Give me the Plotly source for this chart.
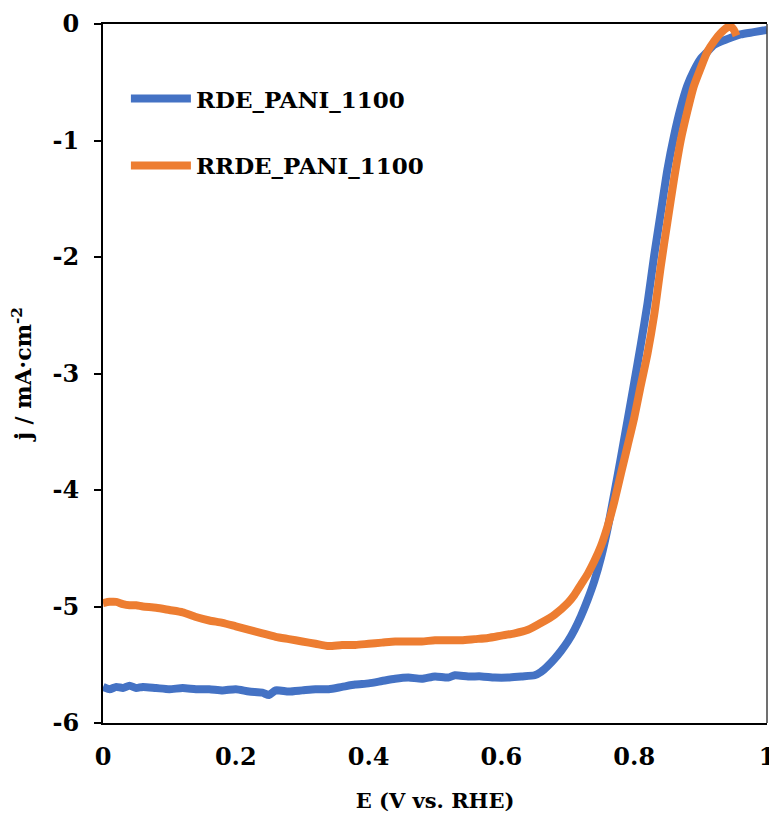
import plotly.graph_objects as go

# ---- data ----
rde_E = [0.00, 0.01, 0.02, 0.03, 0.04, 0.05, 0.06, 0.08, 0.10, 0.12, 0.14, 0.16, 0.18, 0.20,
         0.22, 0.24, 0.25, 0.26, 0.28, 0.30, 0.32, 0.34, 0.36, 0.38, 0.40, 0.42, 0.44, 0.46,
         0.48, 0.50, 0.52, 0.53, 0.55, 0.57, 0.59, 0.61, 0.63, 0.65, 0.66, 0.67, 0.68, 0.69,
         0.70, 0.71, 0.72, 0.73, 0.74, 0.75, 0.76, 0.77, 0.78, 0.79, 0.80, 0.81, 0.82, 0.83,
         0.84, 0.85, 0.86, 0.87, 0.88, 0.89, 0.90, 0.91, 0.92, 0.94, 0.96, 0.98, 1.00]
rde_j = [-5.69, -5.71, -5.69, -5.70, -5.68, -5.70, -5.69, -5.70, -5.71, -5.70, -5.71, -5.71,
         -5.72, -5.71, -5.73, -5.74, -5.76, -5.72, -5.73, -5.72, -5.71, -5.71, -5.69, -5.67,
         -5.66, -5.64, -5.62, -5.61, -5.62, -5.60, -5.61, -5.59, -5.60, -5.60, -5.61, -5.61,
         -5.60, -5.59, -5.56, -5.51, -5.45, -5.38, -5.30, -5.20, -5.08, -4.94, -4.78, -4.58,
         -4.33, -4.03, -3.72, -3.40, -3.08, -2.75, -2.40, -1.99, -1.62, -1.25, -0.96, -0.72,
         -0.53, -0.40, -0.30, -0.24, -0.18, -0.13, -0.09, -0.07, -0.05]

rrde_E = [0.00, 0.01, 0.02, 0.03, 0.04, 0.05, 0.06, 0.08, 0.10, 0.12, 0.14, 0.16, 0.18, 0.20,
          0.22, 0.24, 0.26, 0.28, 0.30, 0.32, 0.34, 0.36, 0.38, 0.40, 0.42, 0.44, 0.46, 0.48,
          0.50, 0.52, 0.54, 0.56, 0.58, 0.60, 0.62, 0.64, 0.66, 0.68, 0.70, 0.71, 0.72, 0.73,
          0.74, 0.75, 0.76, 0.77, 0.78, 0.79, 0.80, 0.81, 0.82, 0.83, 0.84, 0.85, 0.86, 0.87,
          0.88, 0.89, 0.90, 0.91, 0.92, 0.93, 0.94, 0.945, 0.95, 0.954]
rrde_j = [-4.97, -4.96, -4.96, -4.98, -4.99, -4.99, -5.00, -5.01, -5.03, -5.05, -5.09, -5.12,
          -5.14, -5.17, -5.20, -5.23, -5.26, -5.28, -5.30, -5.32, -5.34, -5.33, -5.33, -5.32,
          -5.31, -5.30, -5.30, -5.30, -5.29, -5.29, -5.29, -5.28, -5.27, -5.25, -5.23, -5.20,
          -5.14, -5.07, -4.97, -4.90, -4.81, -4.72, -4.61, -4.48, -4.31, -4.10, -3.86, -3.62,
          -3.38, -3.10, -2.83, -2.50, -2.08, -1.70, -1.33, -1.00, -0.75, -0.53, -0.38, -0.24,
          -0.15, -0.08, -0.03, -0.02, -0.05, -0.10]

x_ticks = [0, 0.2, 0.4, 0.6, 0.8, 1]
x_tick_labels = ["0", "0.2", "0.4", "0.6", "0.8", "1"]
y_ticks = [0, -1, -2, -3, -4, -5, -6]
y_tick_labels = ["0", "-1", "-2", "-3", "-4", "-5", "-6"]

BLUE = "#4472C4"
ORANGE = "#ED7D31"
FONT = "DejaVu Serif"

fig = go.Figure()
fig.add_trace(go.Scatter(x=rde_E, y=rde_j, mode="lines", name="RDE_PANI_1100",
                         legendgroup="a",
                         line=dict(color=BLUE, width=8, shape="spline", smoothing=0.6)))
fig.add_trace(go.Scatter(x=rrde_E, y=rrde_j, mode="lines", name="RRDE_PANI_1100",
                         legendgroup="b",
                         line=dict(color=ORANGE, width=8, shape="spline", smoothing=0.6)))

# the page body has an 8px margin, so the figure is sized/offset to compensate
fig.update_layout(
    width=769, height=812,
    margin=dict(l=95, r=10, t=16, b=97, autoexpand=False),
    paper_bgcolor="white", plot_bgcolor="white",
    font=dict(family=FONT, size=24, color="black", weight="bold"),
    legend=dict(x=0.0345, y=0.924, xanchor="left", yanchor="top",
                bgcolor="rgba(0,0,0,0)", itemwidth=60, tracegroupgap=34,
                font=dict(family=FONT, size=23, color="black", weight="bold")),
    xaxis=dict(range=[0, 1], tickvals=x_ticks, ticktext=x_tick_labels,
               showgrid=False, zeroline=False, showline=True, linecolor="black",
               linewidth=2, mirror=True, ticks="", ticklabelstandoff=11, automargin=False,
               title=dict(text="E (V vs. RHE)", standoff=24,
                          font=dict(family=FONT, size=21, weight="bold"))),
    yaxis=dict(range=[-6, 0], tickvals=y_ticks, ticktext=y_tick_labels,
               showgrid=False, zeroline=False, showline=True, linecolor="black",
               linewidth=2, ticks="outside", ticklen=7, tickwidth=2, tickcolor="black",
               ticklabelstandoff=10, automargin=False,
               title=dict(text="j / mA·cm<sup>-2</sup>", standoff=15,
                          font=dict(family=FONT, size=22, weight="bold"))),
    shapes=[dict(type="line", xref="paper", yref="paper", x0=1, x1=1, y0=0, y1=1,
                 line=dict(color="#404040", width=1.5))],
)

fig.write_html("out.html")
